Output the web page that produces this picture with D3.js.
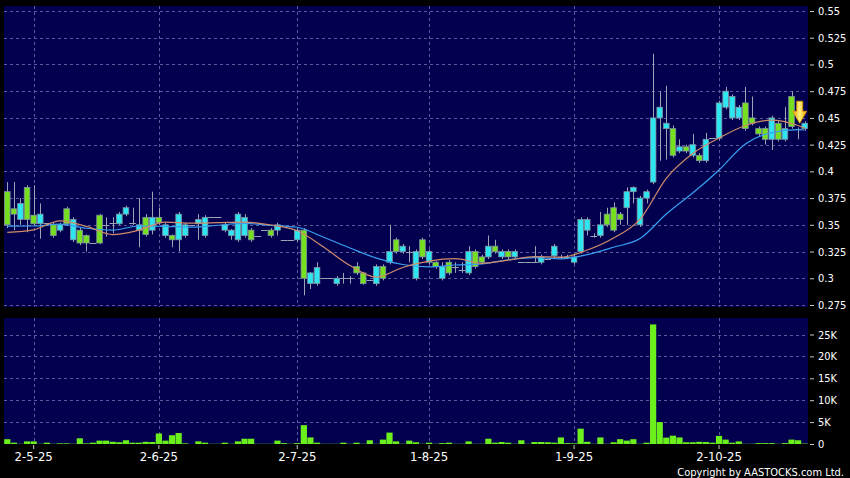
<!DOCTYPE html>
<html>
<head>
<meta charset="utf-8">
<script src="https://cdn.jsdelivr.net/npm/d3@7"></script>
<style>
  html, body { margin: 0; padding: 0; background: #000; }
  svg text { font-family: "DejaVu Sans Condensed", "DejaVu Sans", sans-serif; font-stretch: condensed; fill: #fff; }
</style>
</head>
<body>
<svg id="chart" width="850" height="478"></svg>
<script>
// daily candles (one per trading day, oldest first)
var openP = [
  .381,.365,.355,.385,.359,.351,.352,.350,.345,.365,
  .336,.345,.340,.333,.359,.350,.352,.351,.360,.352,
  .345,.357,.345,.357,.340,.340,.336,.340,.350,.351,
  .340,.357,.357,.345,.340,.336,.340,.345,.340,.345,
  .345,.345,.336,.336,.336,.345,.295,.295,.300,.300,
  .295,.300,.300,.311,.305,.298,.295,.311,.315,.336,
  .325,.325,.300,.336,.315,.315,.300,.315,.311,.308,
  .305,.325,.320,.320,.330,.320,.325,.320,.315,.315,
  .315,.315,.318,.321,.320,.320,.315,.325,.345,.340,
  .340,.360,.366,.360,.366,.381,.350,.375,.390,.450,
  .440,.440,.419,.423,.415,.415,.410,.431,.431,.460,
  .450,.450,.464,.450,.440,.440,.430,.445,.430,.470,
  .440,.440
];
var closeP = [
  .350,.360,.370,.355,.351,.360,.352,.340,.350,.351,
  .355,.333,.333,.333,.333,.350,.352,.360,.366,.352,
  .350,.341,.357,.352,.350,.336,.360,.350,.350,.355,
  .357,.357,.357,.350,.345,.360,.357,.336,.340,.345,
  .340,.350,.336,.336,.345,.300,.305,.310,.300,.300,
  .300,.300,.300,.305,.295,.298,.311,.300,.325,.325,
  .330,.325,.325,.320,.325,.311,.311,.305,.311,.308,
  .325,.311,.315,.330,.325,.325,.320,.325,.315,.315,
  .315,.320,.318,.330,.320,.320,.320,.355,.355,.340,
  .350,.350,.345,.355,.381,.385,.375,.381,.450,.460,
  .445,.415,.423,.419,.425,.410,.430,.431,.464,.475,
  .470,.460,.440,.445,.435,.430,.450,.430,.440,.442,
  .440,.445
];
var highP = [
  .390,.390,.375,.387,.387,.370,.352,.352,.352,.367,
  .357,.347,.341,.333,.360,.357,.357,.362,.368,.366,
  .375,.360,.381,.366,.352,.341,.362,.352,.350,.360,
  .359,.357,.357,.352,.346,.362,.360,.347,.340,.345,
  .347,.352,.336,.336,.347,.347,.306,.315,.300,.300,
  .302,.305,.302,.315,.306,.298,.313,.313,.350,.338,
  .332,.330,.327,.338,.327,.316,.315,.317,.315,.315,
  .330,.327,.322,.340,.336,.327,.327,.327,.315,.315,
  .330,.322,.318,.332,.322,.322,.322,.357,.357,.342,
  .362,.366,.371,.362,.385,.386,.377,.383,.510,.475,
  .480,.443,.430,.425,.435,.417,.436,.431,.466,.479,
  .472,.462,.479,.470,.442,.442,.452,.447,.460,.475,
  .441,.447
];
var lowP = [
  .347,.345,.350,.343,.349,.337,.352,.338,.343,.349,
  .334,.331,.325,.333,.332,.339,.342,.350,.358,.350,
  .329,.339,.341,.350,.338,.329,.325,.338,.350,.336,
  .338,.357,.357,.343,.336,.334,.338,.334,.340,.345,
  .338,.340,.336,.336,.334,.284,.290,.293,.300,.300,
  .293,.295,.295,.303,.294,.298,.293,.298,.313,.323,
  .323,.315,.298,.318,.313,.309,.298,.303,.305,.305,
  .303,.309,.313,.318,.323,.318,.318,.318,.315,.315,
  .315,.313,.318,.319,.318,.318,.313,.323,.340,.338,
  .338,.348,.343,.350,.350,.370,.348,.370,.388,.410,
  .411,.413,.417,.417,.413,.408,.408,.431,.429,.458,
  .448,.448,.438,.443,.433,.425,.420,.428,.428,.440,
  .430,.438
];
// volume, thousands of shares
var volK = [
  1.1,0.3,0.05,0.6,0.6,0.05,0.3,0.05,0.15,0.15,
  0.05,1.3,0.15,0.3,0.77,0.77,0.5,0.4,0.85,0.3,
  0.3,0.5,0.45,2.4,0.77,2.0,2.5,0.15,0,0.6,
  0.3,0.05,0.05,0.3,0.05,0.6,1.2,1.2,0.05,0.05,
  0.05,0.77,0.2,0.05,0.2,4.3,1.5,0.3,0.05,0.05,
  0.05,0.3,0.05,0.3,0.05,0.85,0.05,1.0,2.6,0.6,
  0.05,0.77,0.4,0.05,0.3,0.05,0.2,0.3,0.05,0.05,
  0.6,0.05,0.05,1.2,0.3,0.45,0.3,0.05,0.85,0.05,
  0.45,0.45,0.4,0.3,1.5,0.2,0.15,3.5,0.5,0.05,
  1.5,0.05,0.4,1.1,0.77,1.1,0.05,0.3,27.3,5.0,
  1.45,1.9,1.5,0.4,0.4,0.5,0.45,0.3,1.85,1.0,
  0.3,0.6,0.05,0.05,0.2,0.2,0.2,0.05,0.2,1.0,
  0.85,0.1
];

// moving averages read at every 4th day
var maIdx = [0,4,8,12,16,20,24,28,32,36,40,44,48,52,56,60,64,68,72,76,80,84,88,92,96,100,104,108,112,116,120,121];
var maShort = [.3430,.3453,.3536,.3486,.3409,.3451,.3526,.3515,.3520,.3526,.3498,.3444,.3292,.3119,.3010,.3101,
               .3161,.3183,.3140,.3169,.3202,.3197,.3264,.3377,.3550,.3935,.4167,.4312,.4429,.4480,.4429,.4407];
var maLong = [.3488,.3489,.3507,.3468,.3451,.3489,.3486,.3478,.3496,.3513,.3495,.3477,.3384,.3283,.3189,.3129,
              .3107,.3124,.3135,.3173,.3194,.3182,.3221,.3290,.3371,.3601,.3797,.4013,.4256,.4363,.4390,.4387];

var xTickIdx = [4, 23, 44, 64, 86, 108];
var xTickLabels = ['2-5-25', '2-6-25', '2-7-25', '1-8-25', '1-9-25', '2-10-25'];
var priceTicks = [0.275, 0.3, 0.325, 0.35, 0.375, 0.4, 0.425, 0.45, 0.475, 0.5, 0.525, 0.55];
var volTicks = [0, 5, 10, 15, 20, 25];

// layout
var plotL = 4, plotR = 808;
var priceTop = 6, priceBot = 307;
var volTop = 318, volBot = 444;

var navy = '#02004e';
var upColor = '#2ee6f2';
var downColor = '#76e020';
var gridColor = '#5a5a98';

var svg = d3.select('#chart');

svg.append('rect').attr('width', 850).attr('height', 478).attr('fill', '#000');
svg.append('rect').attr('x', plotL).attr('y', priceTop)
    .attr('width', plotR - plotL).attr('height', priceBot - priceTop).attr('fill', navy);
svg.append('rect').attr('x', plotL).attr('y', volTop)
    .attr('width', plotR - plotL).attr('height', volBot - volTop).attr('fill', navy);

// scales
var x = d3.scaleBand().domain(d3.range(openP.length))
    .range([plotL, plotR]).paddingInner(0.15).paddingOuter(0.075);
var xc = function(i) { return x(i) + x.bandwidth() / 2; };
var y = d3.scaleLinear().domain([0.275, 0.55]).range([305, 11]);
var yv = d3.scaleLinear().domain([0, 25]).range([volBot, 334.5]);

// grid
var grid = svg.append('g').attr('stroke', gridColor).attr('stroke-dasharray', '3,3').attr('stroke-width', 1);
priceTicks.forEach(function(t) {
    var yy = Math.round(y(t)) + 0.5;
    grid.append('line').attr('x1', plotL).attr('x2', plotR).attr('y1', yy).attr('y2', yy);
});
volTicks.slice(1).forEach(function(t) {
    var yy = Math.round(yv(t)) + 0.5;
    grid.append('line').attr('x1', plotL).attr('x2', plotR).attr('y1', yy).attr('y2', yy);
});
xTickIdx.forEach(function(i) {
    var xx = Math.round(xc(i)) + 0.5;
    grid.append('line').attr('x1', xx).attr('x2', xx).attr('y1', priceTop).attr('y2', priceBot);
    grid.append('line').attr('x1', xx).attr('x2', xx).attr('y1', volTop).attr('y2', volBot);
});

// candles
var candles = svg.append('g');
d3.range(openP.length).forEach(function(i) {
    var o = openP[i], c = closeP[i];
    var cx = Math.round(xc(i)) + 0.5;
    if (highP[i] > lowP[i]) {
        candles.append('line')
            .attr('x1', cx).attr('x2', cx)
            .attr('y1', y(highP[i])).attr('y2', y(lowP[i]))
            .attr('stroke', '#9aa4b4').attr('stroke-width', 1);
    }
    if (o == c) {
        candles.append('line')
            .attr('x1', x(i) - 0.5).attr('x2', x(i) + x.bandwidth() + 0.5)
            .attr('y1', Math.round(y(o)) + 0.5).attr('y2', Math.round(y(o)) + 0.5)
            .attr('stroke', '#9aa4b4').attr('stroke-width', 1);
        return;
    }
    var top = y(Math.max(o, c)), bot = y(Math.min(o, c));
    candles.append('rect')
        .attr('x', x(i)).attr('y', top)
        .attr('width', x.bandwidth()).attr('height', Math.max(1, bot - top))
        .attr('fill', c > o ? upColor : downColor)
        .attr('stroke', '#7f93a0').attr('stroke-width', 0.8);
});

// moving averages
var maLine = d3.line()
    .x(function(d) { return xc(d[0]); })
    .y(function(d) { return y(d[1]); })
    .curve(d3.curveMonotoneX);
svg.append('path')
    .attr('d', maLine(maIdx.map(function(d, k) { return [d, maLong[k]]; })))
    .attr('fill', 'none').attr('stroke', '#3a9ef0').attr('stroke-width', 1.2);
svg.append('path')
    .attr('d', maLine(maIdx.map(function(d, k) { return [d, maShort[k]]; })))
    .attr('fill', 'none').attr('stroke', '#d08a6a').attr('stroke-width', 1.2);

// arrow on the last candle
var last = openP.length - 1;
var defs = svg.append('defs');
var grad = defs.append('linearGradient').attr('id', 'arrowGrad').attr('x1', 0).attr('x2', 1);
grad.append('stop').attr('offset', '0%').attr('stop-color', '#f0a000');
grad.append('stop').attr('offset', '50%').attr('stop-color', '#fff27a');
grad.append('stop').attr('offset', '100%').attr('stop-color', '#f0a000');
var ax = xc(last) - 5, ay = y(closeP[last]);
svg.append('path')
    .attr('d', 'M' + ax + ',' + ay +
        ' l-7,-12 l4,0 l0,-10 l6,0 l0,10 l4,0 Z')
    .attr('fill', 'url(#arrowGrad)').attr('stroke', '#e89a00').attr('stroke-width', 0.8);

// volume bars
svg.append('g').selectAll('rect')
    .data(volK)
    .enter().append('rect')
    .attr('x', function(d, i) { return x(i) - 0.3; })
    .attr('y', function(d) { return yv(d); })
    .attr('width', x.bandwidth() + 0.6)
    .attr('height', function(d) { return volBot - yv(d); })
    .attr('fill', '#6cf01c');

// right axes
var priceAxis = d3.axisRight(y).tickValues(priceTicks).tickSize(4).tickPadding(4)
    .tickFormat(function(d) { return String(+d.toFixed(3)); });
var gp = svg.append('g').attr('transform', 'translate(810,0)').call(priceAxis);

var volAxis = d3.axisRight(yv).tickValues(volTicks).tickSize(4).tickPadding(4)
    .tickFormat(function(d) { return d == 0 ? '0' : d + 'K'; });
var gv = svg.append('g').attr('transform', 'translate(810,0)').call(volAxis);

// bottom date axis
var dateAxis = d3.axisBottom(x).tickValues(xTickIdx).tickSize(4).tickPadding(3)
    .tickFormat(function(d) { return xTickLabels[xTickIdx.indexOf(d)]; });
var gx = svg.append('g').attr('transform', 'translate(0,445)').call(dateAxis);

[gp, gv, gx].forEach(function(g) {
    g.select('.domain').remove();
    g.selectAll('.tick line').attr('stroke', '#c8c8c8');
    g.selectAll('.tick text').attr('fill', '#fff');
});
gp.selectAll('text').style('font-size', '11px');
gv.selectAll('text').style('font-size', '11px');
gx.selectAll('text').style('font-size', '13px');

svg.append('text')
    .attr('x', 844).attr('y', 475.5)
    .attr('text-anchor', 'end')
    .style('font-size', '11px')
    .text('Copyright by AASTOCKS.com Ltd.');
</script>
</body>
</html>
